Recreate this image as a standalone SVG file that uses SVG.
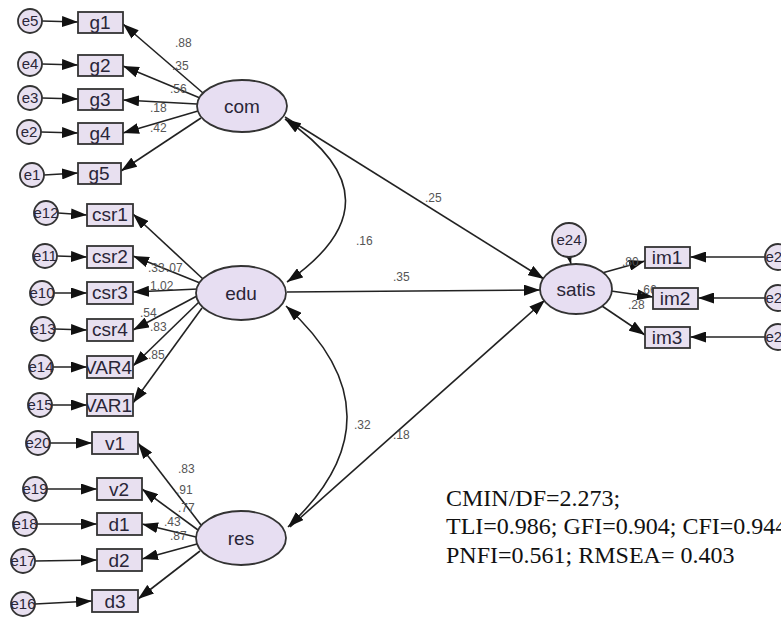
<svg xmlns="http://www.w3.org/2000/svg" width="781" height="617" viewBox="0 0 781 617">
<style>
.box{fill:#E8E0F0;stroke:#333;stroke-width:1.8}
.lat{fill:#E7DEF2;stroke:#333;stroke-width:1.8}
.err{fill:#E8E0F0;stroke:#333;stroke-width:1.8}
.t{font-family:"Liberation Sans",Arial,sans-serif;fill:#2a2638;text-anchor:middle}
.bt{font-size:19px}
.lt{font-size:19px}
.et{font-size:15px}
.c{font-family:"Liberation Sans",Arial,sans-serif;font-size:12px;fill:#555}
.a{stroke:#222;stroke-width:1.6;fill:none;marker-end:url(#ah)}
.aa{stroke:#222;stroke-width:1.6;fill:none;marker-end:url(#ah);marker-start:url(#ah)}
.fit{font-family:"Liberation Serif","Times New Roman",serif;font-size:24px;fill:#111}
</style>
<defs>
<marker id="ah" viewBox="0 0 16 11" refX="16" refY="5.5" markerWidth="16" markerHeight="11" markerUnits="userSpaceOnUse" orient="auto-start-reverse"><path d="M0,0 L16,5.5 L0,11 z" fill="#111"/></marker>
<clipPath id="cv4"><rect x="87" y="356" width="46" height="22"/></clipPath>
<clipPath id="cv1"><rect x="87" y="394" width="46" height="22"/></clipPath>
</defs>

<g id="connectors">
<line class="a" x1="203" y1="93" x2="123" y2="24"/>
<line class="a" x1="200" y1="98" x2="123" y2="66"/>
<line class="a" x1="197" y1="104" x2="123" y2="100"/>
<line class="a" x1="198" y1="111" x2="123" y2="133"/>
<line class="a" x1="201" y1="118" x2="121" y2="171"/>
<line class="a" x1="42" y1="21" x2="78" y2="22"/>
<line class="a" x1="42" y1="64" x2="78" y2="65"/>
<line class="a" x1="42" y1="98" x2="78" y2="99"/>
<line class="a" x1="41" y1="132" x2="78" y2="133"/>
<line class="a" x1="44" y1="175" x2="78" y2="173"/>
<line class="a" x1="203" y1="279" x2="133" y2="214"/>
<line class="a" x1="200" y1="283" x2="133" y2="256"/>
<line class="a" x1="198" y1="289" x2="133" y2="292"/>
<line class="a" x1="197" y1="296" x2="133" y2="330"/>
<line class="a" x1="199" y1="302" x2="133" y2="366"/>
<line class="a" x1="202" y1="308" x2="133" y2="403"/>
<line class="a" x1="58" y1="213" x2="87" y2="215"/>
<line class="a" x1="57" y1="256" x2="87" y2="257"/>
<line class="a" x1="54" y1="293" x2="87" y2="293"/>
<line class="a" x1="55" y1="329" x2="87" y2="330"/>
<line class="a" x1="53" y1="367" x2="87" y2="367"/>
<line class="a" x1="52" y1="405" x2="87" y2="405"/>
<line class="a" x1="201" y1="525" x2="138" y2="443"/>
<line class="a" x1="198" y1="530" x2="142" y2="489"/>
<line class="a" x1="196" y1="537" x2="142" y2="524"/>
<line class="a" x1="197" y1="544" x2="142" y2="559"/>
<line class="a" x1="200" y1="551" x2="138" y2="599"/>
<line class="a" x1="50" y1="443" x2="92" y2="443"/>
<line class="a" x1="47" y1="489" x2="97" y2="489"/>
<line class="a" x1="37" y1="524" x2="97" y2="524"/>
<line class="a" x1="35" y1="561" x2="97" y2="560"/>
<line class="a" x1="35" y1="604" x2="92" y2="601"/>
<line class="a" x1="285" y1="117" x2="544" y2="279"/>
<line class="a" x1="287" y1="292" x2="540" y2="290"/>
<line class="a" x1="290" y1="527" x2="545" y2="300"/>
<path class="aa" d="M285,119 Q405,200 287,282"/>
<path class="aa" d="M286,306 Q407,416 288,527"/>
<line class="a" x1="569" y1="256" x2="571" y2="264"/>
<line class="a" x1="602" y1="273" x2="645" y2="261"/>
<line class="a" x1="611" y1="291" x2="653" y2="297"/>
<line class="a" x1="602" y1="306" x2="645" y2="335"/>
<line class="a" x1="765" y1="257" x2="690" y2="257"/>
<line class="a" x1="765" y1="298" x2="698" y2="298"/>
<line class="a" x1="765" y1="337" x2="690" y2="337"/>
</g>

<g id="labels">
<text class="c" x="175" y="47">.88</text>
<text class="c" x="172" y="70">.35</text>
<text class="c" x="170" y="93">.56</text>
<text class="c" x="150" y="112">.18</text>
<text class="c" x="150" y="132">.42</text>
<text class="c" x="148" y="272">.33</text>
<text class="c" x="166" y="272">.07</text>
<text class="c" x="150" y="290">1.02</text>
<text class="c" x="140" y="317">.54</text>
<text class="c" x="150" y="331">.83</text>
<text class="c" x="148" y="359">.85</text>
<text class="c" x="178" y="473">.83</text>
<text class="c" x="176" y="494">.91</text>
<text class="c" x="178" y="512">.77</text>
<text class="c" x="164" y="526">.43</text>
<text class="c" x="170" y="540">.87</text>
<text class="c" x="425" y="202">.25</text>
<text class="c" x="356" y="245">.16</text>
<text class="c" x="393" y="281">.35</text>
<text class="c" x="354" y="429">.32</text>
<text class="c" x="393" y="439">.18</text>
<text class="c" x="622" y="266">.80</text>
<text class="c" x="640" y="294">.66</text>
<text class="c" x="628" y="309">.28</text>
</g>

<g id="com"><ellipse class="lat" cx="242" cy="106" rx="45" ry="26"/><text class="t lt" x="242" y="113">com</text></g>
<g id="edu"><ellipse class="lat" cx="241" cy="293" rx="45" ry="27"/><text class="t lt" x="241" y="300">edu</text></g>
<g id="res"><ellipse class="lat" cx="241" cy="538" rx="45" ry="27"/><text class="t lt" x="241" y="545">res</text></g>
<g id="satis"><ellipse class="lat" cx="576" cy="289" rx="36" ry="25"/><text class="t lt" x="576" y="296">satis</text></g>
<g id="e24"><circle class="err" cx="569" cy="240" r="17"/><text class="t et" x="569" y="245">e24</text></g>

<g id="g1"><rect class="box" x="78" y="12" width="45" height="21"/><text class="t bt" x="100" y="29">g1</text></g>
<g id="g2"><rect class="box" x="78" y="55" width="45" height="21"/><text class="t bt" x="100" y="72">g2</text></g>
<g id="g3"><rect class="box" x="78" y="89" width="45" height="21"/><text class="t bt" x="100" y="106">g3</text></g>
<g id="g4"><rect class="box" x="78" y="123" width="45" height="21"/><text class="t bt" x="100" y="140">g4</text></g>
<g id="g5"><rect class="box" x="78" y="163" width="43" height="21"/><text class="t bt" x="99" y="180">g5</text></g>
<g id="e5"><circle class="err" cx="30" cy="21" r="12"/><text class="t et" x="30" y="26">e5</text></g>
<g id="e4"><circle class="err" cx="30" cy="64" r="12"/><text class="t et" x="30" y="69">e4</text></g>
<g id="e3"><circle class="err" cx="30" cy="98" r="12"/><text class="t et" x="30" y="103">e3</text></g>
<g id="e2"><circle class="err" cx="29" cy="132" r="12"/><text class="t et" x="29" y="137">e2</text></g>
<g id="e1"><circle class="err" cx="32" cy="175" r="12"/><text class="t et" x="32" y="180">e1</text></g>

<g id="csr1"><rect class="box" x="87" y="204" width="46" height="22"/><text class="t bt" x="110" y="221">csr1</text></g>
<g id="csr2"><rect class="box" x="87" y="246" width="46" height="22"/><text class="t bt" x="110" y="263">csr2</text></g>
<g id="csr3"><rect class="box" x="87" y="282" width="46" height="22"/><text class="t bt" x="110" y="299">csr3</text></g>
<g id="csr4"><rect class="box" x="87" y="319" width="46" height="22"/><text class="t bt" x="110" y="336">csr4</text></g>
<g id="VAR4"><rect class="box" x="87" y="356" width="46" height="22"/><text class="t bt" x="108" y="374" clip-path="url(#cv4)">VAR4</text></g>
<g id="VAR1"><rect class="box" x="87" y="394" width="46" height="22"/><text class="t bt" x="108" y="412" clip-path="url(#cv1)">VAR1</text></g>
<g id="e12"><circle class="err" cx="46" cy="213" r="12"/><text class="t et" x="46" y="218">e12</text></g>
<g id="e11"><circle class="err" cx="45" cy="256" r="12"/><text class="t et" x="45" y="261">e11</text></g>
<g id="e10"><circle class="err" cx="42" cy="293" r="12"/><text class="t et" x="42" y="298">e10</text></g>
<g id="e13"><circle class="err" cx="43" cy="329" r="12"/><text class="t et" x="43" y="334">e13</text></g>
<g id="e14"><circle class="err" cx="41" cy="367" r="12"/><text class="t et" x="41" y="372">e14</text></g>
<g id="e15"><circle class="err" cx="40" cy="405" r="12"/><text class="t et" x="40" y="410">e15</text></g>

<g id="v1"><rect class="box" x="92" y="432" width="46" height="22"/><text class="t bt" x="115" y="450">v1</text></g>
<g id="v2"><rect class="box" x="97" y="478" width="45" height="22"/><text class="t bt" x="119" y="496">v2</text></g>
<g id="d1"><rect class="box" x="97" y="513" width="45" height="22"/><text class="t bt" x="119" y="531">d1</text></g>
<g id="d2"><rect class="box" x="97" y="549" width="45" height="22"/><text class="t bt" x="119" y="567">d2</text></g>
<g id="d3"><rect class="box" x="92" y="590" width="46" height="22"/><text class="t bt" x="115" y="608">d3</text></g>
<g id="e20"><circle class="err" cx="38" cy="443" r="12"/><text class="t et" x="38" y="448">e20</text></g>
<g id="e19"><circle class="err" cx="35" cy="489" r="12"/><text class="t et" x="35" y="494">e19</text></g>
<g id="e18"><circle class="err" cx="25" cy="524" r="12"/><text class="t et" x="25" y="529">e18</text></g>
<g id="e17"><circle class="err" cx="23" cy="561" r="12"/><text class="t et" x="23" y="566">e17</text></g>
<g id="e16"><circle class="err" cx="23" cy="604" r="12"/><text class="t et" x="23" y="609">e16</text></g>

<g id="im1"><rect class="box" x="645" y="247" width="45" height="21"/><text class="t bt" x="667" y="264">im1</text></g>
<g id="im2"><rect class="box" x="653" y="288" width="45" height="21"/><text class="t bt" x="675" y="305">im2</text></g>
<g id="im3"><rect class="box" x="645" y="327" width="45" height="21"/><text class="t bt" x="667" y="344">im3</text></g>
<g id="e21"><circle class="err" cx="778" cy="257" r="13"/><text class="t et" x="778" y="262">e21</text></g>
<g id="e22"><circle class="err" cx="778" cy="298" r="13"/><text class="t et" x="778" y="303">e22</text></g>
<g id="e23"><circle class="err" cx="778" cy="337" r="13"/><text class="t et" x="778" y="342">e23</text></g>

<g id="fit">
<text class="fit" x="446" y="506">CMIN/DF=2.273;</text>
<text class="fit" x="446" y="534">TLI=0.986; GFI=0.904; CFI=0.944</text>
<text class="fit" x="446" y="563">PNFI=0.561; RMSEA= 0.403</text>
</g>
</svg>
